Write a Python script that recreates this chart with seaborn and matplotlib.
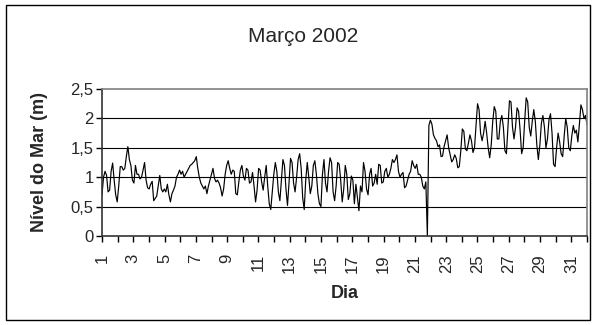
import numpy as np
import pandas as pd
import matplotlib
matplotlib.use("Agg")
import matplotlib.pyplot as plt
import seaborn as sns
from matplotlib.patches import Rectangle

# Sea level readings (m) at regular time steps from day 1 to day 32
nivel_dias_01_08 = [
    0.70, 1.00, 1.10, 1.03, 0.75, 0.78, 1.10, 1.24, 0.95, 0.70, 0.58, 0.85, 1.18, 1.18, 1.12, 1.15,
    1.35, 1.52, 1.30, 1.20, 0.95, 0.90, 1.20, 1.05, 1.05, 0.97, 1.00, 1.12, 1.25, 0.95, 0.82, 0.80,
    0.88, 0.93, 0.60, 0.64, 0.68, 0.85, 1.03, 0.80, 0.75, 0.80, 0.75, 0.88, 0.70, 0.58, 0.72, 0.78,
    0.85, 1.00, 1.05, 1.12, 1.05, 1.10, 1.00, 1.05, 1.10, 1.15, 1.20, 1.22, 1.25, 1.28, 1.35, 1.15,
    1.00, 0.90, 0.85, 0.80, 0.85, 0.72, 0.85, 0.95, 1.05, 1.15, 0.98, 0.92, 0.95, 0.90, 0.82, 0.68,
]
nivel_dias_08_16 = [
    0.80, 1.05, 1.20, 1.28, 1.15, 1.05, 1.12, 1.10, 0.72, 0.70, 0.92, 1.12, 1.20, 1.02, 0.95, 1.15,
    1.12, 0.90, 0.92, 1.08, 0.85, 0.58, 0.78, 1.15, 1.12, 0.92, 0.78, 1.00, 1.20, 0.85, 0.55, 0.45,
    0.75, 1.05, 1.25, 1.10, 0.75, 0.60, 0.95, 1.30, 1.20, 0.80, 0.52, 0.90, 1.32, 1.25, 0.90, 0.75,
    1.00, 1.30, 1.40, 1.15, 0.65, 0.45, 0.95, 1.25, 1.00, 0.72, 0.85, 1.20, 1.28, 1.05, 0.72, 0.55,
    0.50, 1.05, 1.30, 0.90, 0.75, 1.10, 1.33, 1.25, 0.75, 0.60, 0.85, 1.25, 1.22, 0.95, 0.58, 0.80,
]
nivel_dias_16_24 = [
    1.20, 1.05, 0.62, 0.72, 1.02, 0.95, 0.55, 0.88, 0.65, 0.43, 0.85, 0.75, 1.25, 1.10, 0.80, 0.70,
    1.05, 1.15, 0.85, 0.90, 1.05, 0.88, 1.22, 1.20, 0.90, 0.92, 1.10, 1.15, 1.00, 1.05, 1.15, 1.30,
    1.25, 1.30, 1.38, 1.10, 1.00, 1.05, 1.08, 0.82, 0.85, 0.95, 1.05, 1.10, 1.28, 1.20, 1.15, 1.22,
    1.05, 1.05, 1.00, 0.85, 0.80, 0.92, 0.00, 1.88, 1.97, 1.90, 1.72, 1.66, 1.62, 1.52, 1.55, 1.35,
    1.36, 1.52, 1.62, 1.72, 1.50, 1.38, 1.26, 1.30, 1.38, 1.32, 1.16, 1.18, 1.45, 1.82, 1.78, 1.48,
]
nivel_dias_24_32 = [
    1.45, 1.58, 1.72, 1.62, 1.42, 1.50, 1.88, 2.25, 2.15, 1.75, 1.62, 1.75, 1.95, 1.75, 1.50, 1.33,
    1.55, 1.95, 2.20, 2.12, 1.65, 1.65, 1.95, 2.05, 1.85, 1.45, 1.40, 1.85, 2.30, 2.28, 1.85, 1.65,
    1.85, 2.18, 2.12, 1.80, 1.40, 1.50, 1.95, 2.35, 2.28, 1.85, 1.70, 1.95, 2.15, 1.95, 1.55, 1.30,
    1.55, 1.92, 2.05, 1.85, 1.50, 1.65, 1.98, 2.08, 1.75, 1.22, 1.18, 1.50, 1.75, 1.60, 1.40, 1.35,
    1.70, 2.00, 1.85, 1.50, 1.45, 1.70, 1.88, 1.75, 1.80, 1.60, 1.90, 2.23, 2.15, 2.00, 2.05, 1.90,
]

dias_rotulos = list(range(1, 33))
niveis_eixo = [0, 0.5, 1, 1.5, 2, 2.5]
titulo = "Março 2002"

nivel = nivel_dias_01_08 + nivel_dias_08_16 + nivel_dias_16_24 + nivel_dias_24_32
dia = np.linspace(1, 32, len(nivel))
df = pd.DataFrame({"Dia": dia, "Nivel": nivel})

sns.set_style("white")
plt.rcParams["font.family"] = ["Liberation Sans", "DejaVu Sans"]

W, H = 594, 325
fig = plt.figure(figsize=(W / 100, H / 100), dpi=100)
fig.patch.set_facecolor("white")
ax = fig.add_axes([102 / W, 1 - 236 / H, (587 - 102) / W, (236 - 89) / H])

sns.lineplot(data=df, x="Dia", y="Nivel", ax=ax, color="black", linewidth=0.85,
             estimator=None, sort=False)

ax.set_xlim(1, 32)
ax.set_ylim(0, 2.5)
ax.set_xticks(dias_rotulos)
ax.set_xticklabels([str(d) if d % 2 == 1 and d < 32 else "" for d in dias_rotulos],
                   rotation=90, fontsize=12)
ax.set_yticks(niveis_eixo)
ax.set_yticklabels([("%g" % v).replace(".", ",") for v in niveis_eixo], fontsize=12)
ax.tick_params(axis="x", direction="out", length=4, width=1, pad=9, color="black", bottom=True)
ax.tick_params(axis="y", direction="out", length=4, width=1, pad=2, color="black", left=True)

for v in niveis_eixo[1:-1]:
    ax.axhline(v, color="black", linewidth=0.8, zorder=0)

for s in ["left", "bottom"]:
    ax.spines[s].set_color("#333333")
    ax.spines[s].set_linewidth(1.2)
for s in ["top", "right"]:
    ax.spines[s].set_color("#808080")
    ax.spines[s].set_linewidth(1.2)

ax.set_xlabel("Dia", fontsize=13, fontweight="bold")
ax.set_ylabel("Nível do Mar (m)", fontsize=13, fontweight="bold")
ax.xaxis.set_label_coords(0.5, -0.33)
ax.yaxis.set_label_coords(-0.112, 0.5)

fig.text(303 / W, 1 - 36 / H, titulo, ha="center", va="center", fontsize=15)

fig.patches.append(Rectangle((6 / W, 5 / H), (590 - 6) / W, (320 - 5) / H,
                             transform=fig.transFigure, fill=False,
                             edgecolor="black", linewidth=1.0))

fig.savefig("out.png", dpi=100)
